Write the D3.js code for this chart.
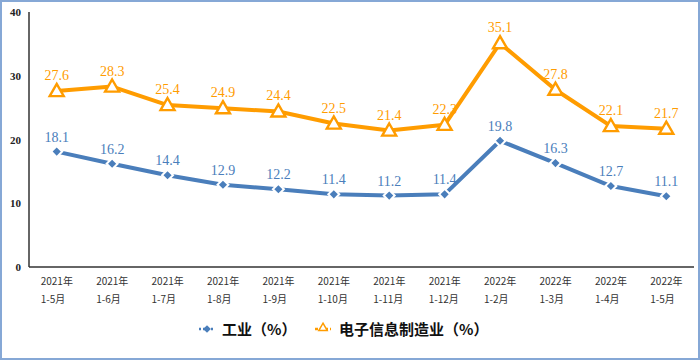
<!DOCTYPE html>
<html>
<head>
<meta charset="utf-8">
<script src="https://cdn.jsdelivr.net/npm/d3@7"></script>
<style>
  body { margin: 0; background: #fff; }
  #chart { width: 700px; height: 360px; }
</style>
</head>
<body>
<div id="chart"></div>
<script>
const years = ["2021年", "2021年", "2021年", "2021年", "2021年", "2021年", "2021年", "2021年", "2022年", "2022年", "2022年", "2022年"];
const months = ["1-5月", "1-6月", "1-7月", "1-8月", "1-9月", "1-10月", "1-11月", "1-12月", "1-2月", "1-3月", "1-4月", "1-5月"];
const industry = [18.1, 16.2, 14.4, 12.9, 12.2, 11.4, 11.2, 11.4, 19.8, 16.3, 12.7, 11.1];
const electronics = [27.6, 28.3, 25.4, 24.9, 24.4, 22.5, 21.4, 22.3, 35.1, 27.8, 22.1, 21.7];
const yTicks = [0, 10, 20, 30, 40];

const BLUE = "#4a7ebb";
const ORANGE = "#ff9c00";
const W = 700, H = 360;

const svg = d3.select("#chart").append("svg").attr("width", W).attr("height", H);

// outer frame
svg.append("rect")
  .attr("x", 1).attr("y", 1).attr("width", W - 2).attr("height", H - 2)
  .attr("fill", "#fff").attr("stroke", "#86a8d6").attr("stroke-width", 2);

const idx = d3.range(years.length);
const x = d3.scaleBand().domain(idx).range([29, 694]);
const y = d3.scaleLinear().domain([0, 40]).range([267, 12]);
const cx = (i) => x(i) + x.bandwidth() / 2;

// axes
svg.append("line")
  .attr("x1", 29).attr("x2", 29).attr("y1", y(40)).attr("y2", y(0))
  .attr("stroke", "#333").attr("stroke-width", 1.5);
svg.append("line")
  .attr("x1", 29).attr("x2", 694).attr("y1", y(0)).attr("y2", y(0))
  .attr("stroke", "#333").attr("stroke-width", 1.5);

svg.append("g").selectAll("text").data(yTicks).enter().append("text")
  .attr("x", 21).attr("y", (d) => y(d) + 4)
  .attr("text-anchor", "end")
  .attr("font-family", "Liberation Serif, serif")
  .attr("font-weight", "bold").attr("font-size", 11).attr("fill", "#222")
  .text((d) => d);

const xl = svg.append("g").selectAll("g").data(idx).enter().append("g")
  .attr("transform", (i) => `translate(${cx(i) - 16},0)`)
  .attr("font-family", "Noto Sans CJK SC, sans-serif")
  .attr("font-size", 10).attr("fill", "#333");
xl.append("text").attr("y", 285).text((i) => years[i]);
xl.append("text").attr("y", 303).text((i) => months[i]);

const line = d3.line().x((d, i) => cx(i)).y((d) => y(d));

// electronics series
svg.append("path").datum(electronics)
  .attr("d", line).attr("fill", "none")
  .attr("stroke", ORANGE).attr("stroke-width", 4).attr("stroke-linejoin", "round");
const tri = d3.symbol().type(d3.symbolTriangle).size(85);
svg.append("g").selectAll("path").data(electronics).enter().append("path")
  .attr("d", tri)
  .attr("transform", (d, i) => `translate(${cx(i)},${y(d) + 1})`)
  .attr("fill", "#fff").attr("stroke", ORANGE).attr("stroke-width", 2.4);
svg.append("g").selectAll("text").data(electronics).enter().append("text")
  .attr("x", (d, i) => cx(i)).attr("y", (d) => y(d) - 11)
  .attr("text-anchor", "middle")
  .attr("font-family", "Liberation Serif, serif").attr("font-size", 14)
  .attr("fill", ORANGE)
  .text((d) => d.toFixed(1));

// industry series
svg.append("path").datum(industry)
  .attr("d", line).attr("fill", "none")
  .attr("stroke", BLUE).attr("stroke-width", 4).attr("stroke-linejoin", "round");
const dia = d3.symbol().type(d3.symbolSquare).size(60);
svg.append("g").selectAll("path").data(industry).enter().append("path")
  .attr("d", dia)
  .attr("transform", (d, i) => `translate(${cx(i)},${y(d)}) rotate(45)`)
  .attr("fill", BLUE).attr("stroke", "#fff").attr("stroke-width", 2);
svg.append("g").selectAll("text").data(industry).enter().append("text")
  .attr("x", (d, i) => cx(i)).attr("y", (d) => y(d) - 10)
  .attr("text-anchor", "middle")
  .attr("font-family", "Liberation Serif, serif").attr("font-size", 14)
  .attr("fill", BLUE)
  .text((d) => d.toFixed(1));

// legend
const lg = svg.append("g").attr("font-family", "Noto Sans CJK SC, sans-serif")
  .attr("font-size", 15).attr("font-weight", "bold").attr("fill", "#111");
lg.append("line").attr("x1", 199).attr("x2", 214).attr("y1", 329).attr("y2", 329)
  .attr("stroke", BLUE).attr("stroke-width", 2.5).attr("stroke-dasharray", "2,2");
lg.append("path").attr("d", d3.symbol().type(d3.symbolSquare).size(30))
  .attr("transform", "translate(207,329) rotate(45)").attr("fill", BLUE);
lg.append("text").attr("x", 222).attr("y", 335).text("工业（%）");
lg.append("line").attr("x1", 315).attr("x2", 331).attr("y1", 329).attr("y2", 329)
  .attr("stroke", ORANGE).attr("stroke-width", 2.5).attr("stroke-dasharray", "3,2");
lg.append("path").attr("d", d3.symbol().type(d3.symbolTriangle).size(30))
  .attr("transform", "translate(323,328)").attr("fill", "#fff")
  .attr("stroke", ORANGE).attr("stroke-width", 1.5);
lg.append("text").attr("x", 339).attr("y", 335).text("电子信息制造业（%）");
</script>
</body>
</html>
